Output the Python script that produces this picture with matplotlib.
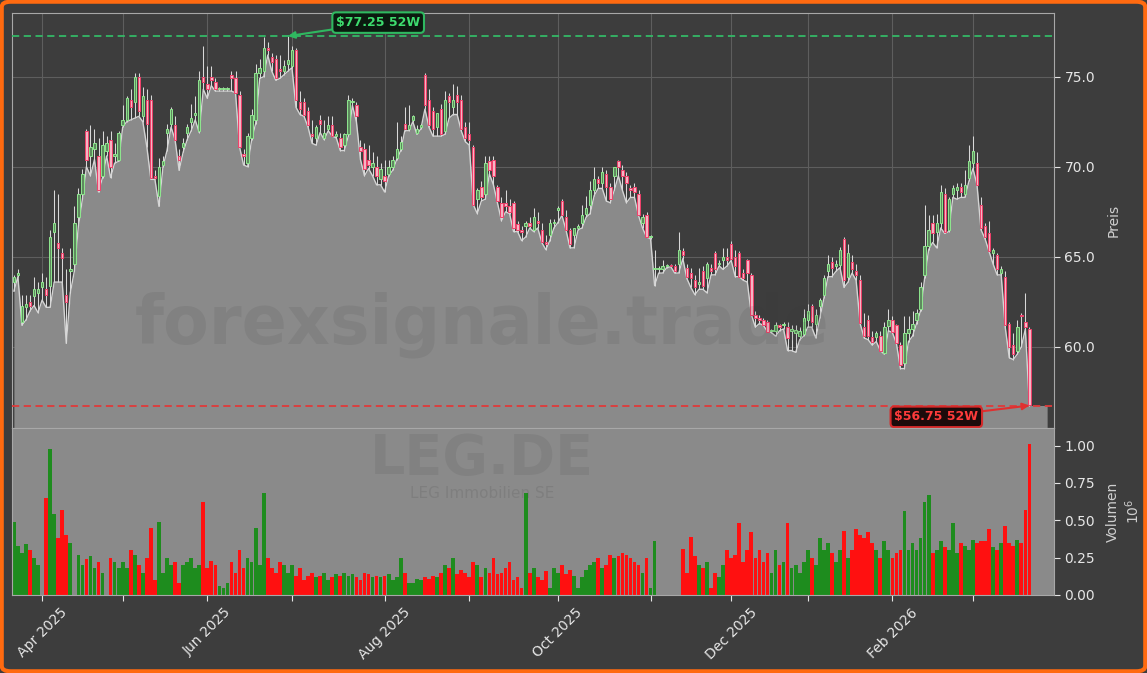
import numpy as np
import pandas as pd
import matplotlib
matplotlib.use("Agg")
import matplotlib.pyplot as plt
from matplotlib.patches import Rectangle, FancyBboxPatch

# ---------------- data ----------------
holidays = ["2025-04-18", "2025-04-21", "2025-05-01", "2025-12-24",
            "2025-12-25", "2025-12-26", "2025-12-31", "2026-01-01"]
dates = pd.bdate_range("2025-03-21", "2026-03-20")
dates = dates[~dates.isin(pd.to_datetime(holidays))]

opens = [63.6, 64.0, 61.4, 62.2, 62.5, 62.8, 63.0, 63.35, 63.2, 63.4,
         66.4, 65.75, 65.2, 62.9, 64.2, 64.6, 67.2, 68.5, 72.0, 70.6,
         71.0, 70.6, 69.5, 70.9, 71.5, 70.6, 70.4, 72.3, 72.6, 73.7,
         73.6, 75.0, 72.8, 73.7, 73.7, 69.5, 68.4, 70.1, 71.9, 72.4,
         72.3, 70.6, 71.1, 71.9, 72.5, 72.9, 72.0, 75.0, 74.6, 75.0,
         74.7, 74.3, 74.3, 74.3, 75.1, 74.9, 74.0, 70.7, 70.2, 71.6,
         72.6, 75.2, 75.3, 76.6, 76.1, 76.0, 75.4, 75.3, 75.7, 75.6,
         76.5, 73.6, 73.6, 73.1, 71.8, 71.6, 72.6, 71.6, 72.1, 72.3,
         71.7, 71.6, 71.2, 71.8, 73.6, 73.4, 71.1, 71.0, 70.4, 70.0,
         70.0, 69.3, 69.5, 69.6, 70.0, 70.5, 71.0, 72.4, 72.1, 72.6,
         71.9, 72.2, 75.1, 73.7, 73.1, 72.2, 73.2, 72.0, 73.9, 73.3,
         74.0, 73.7, 72.2, 71.8, 71.1, 68.2, 68.9, 68.5, 70.3, 70.4,
         68.9, 68.0, 68.0, 67.8, 68.0, 66.8, 66.5, 66.7, 66.9, 66.5,
         67.0, 66.5, 65.8, 66.2, 66.9, 67.6, 68.1, 67.2, 66.5, 66.2,
         66.6, 66.9, 67.4, 67.9, 68.7, 69.3, 69.1, 69.6, 68.9, 69.5,
         70.3, 69.8, 69.5, 68.8, 68.9, 68.5, 66.9, 67.3, 66.1, 64.3,
         64.3, 64.3, 64.5, 64.55, 64.5, 64.6, 65.3, 64.4, 64.1, 63.7,
         63.5, 64.2, 63.8, 64.4, 65.2, 64.6, 64.8, 65.0, 65.7, 65.0,
         65.2, 64.1, 64.8, 64.0, 61.8, 61.6, 61.5, 61.4, 60.9, 60.9,
         61.2, 61.2, 61.1, 60.9, 60.8, 60.6, 60.7, 61.5, 62.25, 61.3,
         62.3, 62.9, 64.2, 64.7, 64.5, 64.55, 66.0, 63.9, 64.7, 64.2,
         63.7, 61.1, 61.5, 60.55, 60.55, 60.6, 59.65, 61.15, 61.5, 61.2,
         60.1, 59.1, 60.8, 61.0, 61.5, 62.1, 64.0, 65.6, 66.9, 66.4,
         66.9, 68.5, 66.5, 68.5, 68.7, 68.9, 68.5, 69.4, 70.2, 70.2,
         67.9, 66.7, 66.35, 65.2, 65.1, 64.1, 63.9, 61.3, 60.1, 59.8,
         61.8, 61.4, 61.0]
highs = [64.0, 64.3, 62.9, 62.9, 62.9, 63.9, 63.6, 64.1, 63.9, 66.5,
         68.7, 68.5, 65.5, 64.3, 65.5, 67.8, 68.8, 69.9, 72.1, 72.3,
         72.1, 71.6, 72.0, 71.7, 72.0, 71.3, 72.0, 73.4, 73.9, 74.3,
         75.2, 75.2, 74.4, 74.3, 74.0, 69.8, 70.5, 70.6, 72.4, 73.3,
         72.8, 71.0, 71.6, 72.4, 73.5, 73.9, 75.3, 76.7, 75.6, 75.6,
         74.9, 74.4, 74.4, 74.4, 75.3, 75.3, 74.2, 71.0, 71.9, 73.2,
         75.7, 76.0, 77.2, 76.9, 76.3, 76.2, 76.2, 75.9, 77.25, 76.7,
         76.6, 74.2, 73.8, 73.3, 72.6, 72.3, 72.9, 72.6, 72.8, 72.8,
         72.0, 71.9, 71.9, 74.0, 73.8, 73.6, 71.5, 71.3, 71.2, 70.8,
         70.6, 70.2, 70.4, 70.4, 70.6, 72.5, 71.7, 73.3, 73.4, 72.9,
         72.3, 72.4, 75.2, 74.3, 73.3, 73.0, 73.5, 74.2, 74.1, 74.6,
         74.5, 74.0, 72.5, 72.5, 71.2, 68.8, 69.2, 70.6, 70.6, 70.6,
         69.0, 68.3, 68.7, 68.2, 68.1, 67.0, 66.7, 67.0, 67.2, 67.7,
         67.5, 66.9, 66.2, 67.1, 67.1, 67.8, 68.2, 67.6, 66.6, 66.6,
         66.8, 67.9, 68.4, 69.2, 70.0, 69.5, 70.0, 69.8, 69.1, 70.0,
         70.4, 70.1, 69.7, 69.0, 69.1, 68.7, 67.4, 67.5, 66.2, 65.4,
         64.5, 64.8, 64.6, 64.6, 64.6, 66.4, 65.5, 64.6, 64.4, 64.0,
         64.4, 64.5, 64.7, 64.6, 65.3, 64.8, 65.5, 65.5, 65.9, 65.4,
         65.3, 64.3, 64.9, 64.1, 62.0, 61.8, 61.6, 61.5, 61.0, 61.4,
         61.3, 61.4, 61.4, 61.2, 61.2, 61.1, 62.1, 62.4, 62.4, 62.1,
         62.7, 64.0, 65.1, 65.0, 64.8, 65.57, 66.1, 65.7, 65.1, 64.6,
         64.0, 61.9, 61.8, 60.9, 60.9, 60.9, 61.4, 62.1, 61.7, 61.3,
         60.3, 61.7, 61.7, 62.0, 62.1, 63.6, 67.9, 67.3, 67.3, 67.4,
         69.0, 68.8, 68.3, 69.0, 69.1, 69.1, 69.8, 71.2, 71.7, 70.8,
         68.3, 66.9, 67.0, 65.5, 65.2, 64.5, 64.2, 61.4, 60.8, 61.5,
         61.9, 63.0, 61.1]
lows = [63.1, 63.9, 61.2, 61.5, 62.0, 62.3, 61.9, 62.6, 62.2, 62.2,
        63.6, 63.6, 63.6, 60.2, 63.0, 64.2, 66.7, 68.2, 70.0, 69.5,
        70.4, 68.6, 69.4, 70.6, 69.4, 70.2, 70.3, 72.2, 72.5, 72.6,
        72.7, 72.8, 72.5, 71.1, 69.3, 69.3, 67.8, 70.0, 70.9, 72.2,
        71.5, 69.8, 70.8, 71.5, 72.0, 72.6, 71.9, 74.3, 73.8, 74.5,
        74.2, 74.2, 74.2, 74.2, 74.2, 74.1, 71.1, 70.1, 70.0, 71.5,
        72.4, 74.9, 75.0, 76.2, 75.3, 74.8, 74.9, 75.1, 75.3, 75.5,
        73.3, 72.9, 72.8, 72.2, 71.3, 71.2, 71.9, 71.5, 72.0, 71.7,
        71.6, 70.9, 70.9, 71.7, 73.4, 72.5, 70.4, 69.5, 69.9, 69.5,
        69.0, 69.0, 68.6, 69.5, 69.8, 70.4, 70.9, 72.0, 72.0, 72.5,
        71.8, 72.1, 73.2, 72.2, 71.7, 71.7, 71.7, 71.8, 72.7, 72.9,
        72.9, 72.0, 71.4, 71.2, 67.9, 67.4, 68.1, 68.2, 69.6, 69.0,
        68.0, 67.0, 67.5, 67.4, 66.4, 66.4, 65.9, 66.1, 66.6, 66.4,
        66.6, 65.8, 65.4, 65.9, 66.6, 66.9, 67.3, 66.5, 65.5, 65.5,
        66.5, 66.6, 67.2, 67.4, 68.4, 68.8, 68.8, 68.1, 68.0, 68.7,
        69.5, 68.7, 68.0, 68.3, 68.3, 67.3, 66.6, 66.1, 66.0, 63.4,
        64.1, 64.1, 64.4, 64.45, 64.1, 64.1, 64.9, 63.8, 63.3, 62.9,
        63.2, 63.2, 63.0, 64.0, 64.0, 64.5, 64.3, 64.5, 64.8, 63.9,
        63.9, 63.7, 63.6, 61.8, 61.1, 61.3, 61.2, 60.85, 60.8, 60.6,
        60.9, 61.0, 59.8, 59.8, 59.7, 60.4, 60.6, 61.1, 61.1, 60.5,
        61.6, 62.7, 63.9, 63.9, 64.2, 64.4, 63.3, 63.6, 64.1, 63.7,
        61.3, 60.5, 60.4, 60.1, 60.3, 59.8, 59.6, 60.9, 60.8, 60.2,
        58.8, 58.8, 60.3, 60.6, 61.3, 62.0, 63.8, 65.4, 65.8, 65.5,
        66.6, 66.3, 66.4, 68.3, 68.2, 68.3, 68.3, 69.2, 69.9, 69.0,
        66.5, 66.0, 65.3, 64.6, 64.0, 64.0, 61.1, 59.4, 59.3, 59.6,
        60.0, 61.0, 56.75]
closes = [63.9, 64.1, 62.3, 62.4, 62.3, 63.2, 63.2, 63.6, 62.9, 66.1,
          66.9, 65.5, 64.95, 62.5, 64.3, 66.9, 68.5, 69.6, 70.4, 71.1,
          71.3, 68.7, 71.2, 71.3, 70.0, 70.7, 71.9, 72.6, 73.8, 73.3,
          75.0, 73.1, 73.9, 72.4, 69.4, 69.4, 70.0, 70.3, 72.1, 73.2,
          71.5, 70.4, 71.3, 72.2, 72.7, 73.0, 74.8, 74.7, 74.3, 74.8,
          74.3, 74.3, 74.3, 74.3, 74.9, 74.1, 71.1, 70.6, 71.7, 72.9,
          75.2, 75.5, 76.6, 76.5, 75.8, 74.9, 75.3, 75.6, 75.9, 76.5,
          73.7, 73.2, 72.9, 72.3, 71.7, 72.2, 72.4, 71.9, 72.3, 71.7,
          71.8, 71.1, 71.8, 73.7, 73.6, 72.8, 70.9, 69.9, 70.1, 70.2,
          69.5, 69.9, 69.2, 70.0, 70.4, 71.0, 71.4, 72.1, 72.3, 72.8,
          72.1, 72.3, 73.4, 72.3, 72.1, 73.0, 71.8, 73.7, 73.6, 73.7,
          73.6, 72.1, 71.6, 71.5, 67.9, 68.7, 68.3, 70.2, 69.8, 69.5,
          68.1, 67.2, 67.8, 67.5, 66.6, 66.5, 66.4, 66.9, 66.7, 67.2,
          66.9, 65.8, 65.7, 66.9, 66.9, 67.7, 67.3, 66.5, 65.7, 66.6,
          66.7, 67.3, 67.7, 68.7, 69.3, 69.1, 69.7, 68.9, 68.2, 70.0,
          70.0, 69.5, 69.1, 68.7, 68.6, 67.3, 67.2, 66.1, 66.1, 64.4,
          64.3, 64.5, 64.55, 64.5, 64.2, 65.4, 65.1, 63.9, 63.8, 63.3,
          63.6, 63.4, 64.6, 64.2, 64.3, 64.6, 65.0, 64.8, 64.9, 64.5,
          63.9, 63.8, 64.1, 61.8, 61.6, 61.5, 61.2, 60.85, 60.9, 61.2,
          61.1, 61.3, 60.5, 61.0, 60.95, 60.9, 61.6, 62.0, 61.4, 61.8,
          62.6, 63.8, 64.6, 64.4, 64.6, 65.4, 63.7, 65.2, 64.3, 64.0,
          61.35, 60.6, 60.6, 60.3, 60.75, 59.8, 61.1, 61.5, 60.85, 60.2,
          59.0, 60.8, 61.0, 61.3, 61.9, 63.3, 65.6, 66.5, 66.3, 66.9,
          68.6, 66.4, 68.2, 68.8, 68.9, 68.6, 69.0, 70.3, 70.85, 69.0,
          66.6, 66.1, 65.3, 65.4, 64.3, 64.3, 61.2, 60.0, 59.6, 61.1,
          61.7, 61.1, 56.8]
# volume in millions of shares
volumes_mio = [0.49, 0.33, 0.28, 0.34, 0.30, 0.25, 0.20, 0.00, 0.65, 0.98,
               0.54, 0.38, 0.57, 0.40, 0.35, 0.00, 0.27, 0.20, 0.24, 0.26,
               0.18, 0.22, 0.15, 0.00, 0.25,
               0.22, 0.18, 0.22, 0.18, 0.30, 0.27, 0.20, 0.15, 0.25, 0.45,
               0.10, 0.49, 0.15, 0.25, 0.20, 0.22, 0.08, 0.20, 0.22, 0.25,
               0.18, 0.20, 0.62, 0.18, 0.23,
               0.20, 0.06, 0.05, 0.08, 0.22, 0.15, 0.30, 0.18, 0.25, 0.22,
               0.45, 0.20, 0.68, 0.25, 0.18, 0.15, 0.22, 0.20, 0.15, 0.20,
               0.13, 0.18, 0.10, 0.13, 0.15,
               0.12, 0.13, 0.15, 0.10, 0.12, 0.14, 0.13, 0.15, 0.13, 0.14,
               0.12, 0.10, 0.15, 0.14, 0.12, 0.13, 0.12, 0.13, 0.14, 0.10,
               0.12, 0.25, 0.15, 0.08, 0.08,
               0.11, 0.10, 0.12, 0.11, 0.13, 0.12, 0.15, 0.20, 0.18, 0.25,
               0.14, 0.17, 0.15, 0.12, 0.22, 0.20, 0.12, 0.18, 0.15, 0.25,
               0.14, 0.15, 0.18, 0.22, 0.10,
               0.12, 0.05, 0.68, 0.15, 0.18, 0.12, 0.10, 0.16, 0.05, 0.18,
               0.15, 0.20, 0.14, 0.17, 0.13, 0.05, 0.12, 0.17, 0.20, 0.22,
               0.25, 0.18, 0.20, 0.27, 0.25,
               0.26, 0.28, 0.27, 0.25, 0.22, 0.20, 0.15, 0.25, 0.05, 0.36,
               0.00, 0.00, 0.00, 0.00, 0.00, 0.00, 0.31, 0.15, 0.39, 0.26,
               0.20, 0.18, 0.22, 0.05, 0.15,
               0.12, 0.20, 0.30, 0.25, 0.27, 0.48, 0.22, 0.30, 0.42, 0.25,
               0.30, 0.22, 0.28, 0.15, 0.30, 0.20, 0.22, 0.48, 0.18, 0.20,
               0.15, 0.22, 0.30, 0.25, 0.20,
               0.38, 0.30, 0.35, 0.28, 0.22, 0.30, 0.43, 0.25, 0.30, 0.44,
               0.40, 0.38, 0.42, 0.35, 0.30, 0.25, 0.36, 0.30, 0.25, 0.28,
               0.30, 0.56, 0.30, 0.35, 0.30,
               0.38, 0.62, 0.67, 0.28, 0.30, 0.36, 0.32, 0.30, 0.48, 0.28,
               0.35, 0.33, 0.30, 0.37, 0.35, 0.36, 0.36, 0.44, 0.32, 0.30,
               0.35, 0.46, 0.35, 0.33, 0.37, 0.35, 0.57, 1.01]

high_52w = 77.25
low_52w = 56.75

# ---------------- style ----------------
BG = "#3d3d3d"
FILL = "#8a8a8a"
TXT = "#e6e6e6"
n = len(dates)
assert len(opens) == n and len(highs) == n and len(lows) == n
assert len(closes) == n and len(volumes_mio) == n
x = np.arange(n)
o = np.array(opens); h = np.array(highs); l = np.array(lows); c = np.array(closes)
up = c >= o

fig = plt.figure(figsize=(11.47, 6.73), dpi=100, facecolor=BG)
ax_p = fig.add_axes([0.0107, 0.364, 0.9082, 0.6174], facecolor=BG)
ax_v = fig.add_axes([0.0107, 0.1159, 0.9082, 0.2481], facecolor=FILL, sharex=ax_p)

YMIN, YMAX = 55.5, 78.56
XMIN, XMAX = -0.4, 258.1

# price area (under the lows)
pad = 4.4
xf = np.append(x, x[-1] + pad)
lf = np.append(l, l[-1])
ax_p.fill_between(xf, lf, YMIN, color=FILL, zorder=1, lw=0)
ax_p.plot(x, l, color="#d4d4d4", lw=1.0, zorder=2)

# candles
for i in range(n):
    lo = min(l[i], o[i], c[i]); hi = max(h[i], o[i], c[i])
    ax_p.plot([x[i], x[i]], [lo, hi], color="#d8d8d8", lw=0.75, zorder=3,
              solid_capstyle="butt")
    bottom = min(o[i], c[i]); height = max(abs(c[i] - o[i]), 0.06)
    if up[i]:
        fc, ec = "#5f8a5f", "#8fe88f"
    else:
        fc, ec = "#f5b5c4", "#f0406a"
    ax_p.add_patch(Rectangle((x[i] - 0.3, bottom), 0.6, height, facecolor=fc,
                             edgecolor=ec, lw=0.7, zorder=4))

# 52 week lines and labels
ax_p.axhline(high_52w, color="#34b866", ls=(0, (4, 2.5)), lw=1.3, zorder=5)
ax_p.axhline(low_52w, color="#e03a3a", ls=(0, (4, 2.5)), lw=1.3, zorder=5)
i_hi = int(np.argmax(h)); i_lo = int(np.argmin(l))
ax_p.annotate(r"\$%.2f 52W" % high_52w, xy=(i_hi, high_52w), xytext=(90.4, 78.0),
              fontsize=9, fontweight="bold", color="#3ddc6e", ha="center", va="center",
              bbox=dict(boxstyle="round,pad=0.3", fc="#0b1a0f", ec="#2fb860", lw=1.5),
              arrowprops=dict(arrowstyle="-|>", color="#2fb860", lw=1.5,
                              mutation_scale=10, shrinkA=0, shrinkB=0),
              annotation_clip=False, zorder=10)
ax_p.annotate(r"\$%.2f 52W" % low_52w, xy=(i_lo, low_52w), xytext=(228.9, 56.12),
              fontsize=9, fontweight="bold", color="#ff3b3b", ha="center", va="center",
              bbox=dict(boxstyle="round,pad=0.3", fc="#1c0b0b", ec="#d42a2a", lw=1.5),
              arrowprops=dict(arrowstyle="-|>", color="#e03030", lw=1.5,
                              mutation_scale=10, shrinkA=0, shrinkB=0),
              annotation_clip=False, zorder=10)

ax_p.set_ylim(YMIN, YMAX)
ax_p.set_xlim(XMIN, XMAX)
ax_p.set_yticks([60, 65, 70, 75])
ax_p.yaxis.set_major_formatter(matplotlib.ticker.FormatStrFormatter("%.1f"))
ax_p.yaxis.tick_right()
ax_p.yaxis.set_label_position("right")
ax_p.set_ylabel("Preis", color="#cfcfcf", fontsize=10, labelpad=8)
ax_p.set_axisbelow(True)
ax_p.grid(True, color="#5e5e5e", lw=0.8, zorder=0)

# volume
vcol = np.where(up, "#1e8c1e", "#ff1010")
ax_v.bar(x, volumes_mio, width=0.92, color=vcol, lw=0, zorder=2)
ax_v.set_ylim(0, 1.118)
ax_v.set_yticks([0, 0.25, 0.5, 0.75, 1.0])
ax_v.yaxis.set_major_formatter(matplotlib.ticker.FormatStrFormatter("%.2f"))
ax_v.yaxis.tick_right()
ax_v.yaxis.set_label_position("right")
ax_v.set_ylabel("Volumen\n$10^6$", color="#cfcfcf", fontsize=10, labelpad=8)

# month ticks at first trading day of each month
month_first = pd.Series(np.arange(n), index=dates).groupby(dates.to_period("M")).first()
tick_pos, tick_lab = [], []
for per, pos in month_first.items():
    if dates[pos].day > 7:
        continue
    tick_pos.append(pos)
    tick_lab.append(per.strftime("%b %Y") if per.month % 2 == 0 else "")
ax_v.set_xticks(tick_pos)
ax_v.set_xticklabels(tick_lab, rotation=45, ha="center")
ax_p.tick_params(axis="x", labelbottom=False, length=0)

for ax in (ax_p, ax_v):
    ax.tick_params(colors=TXT, labelsize=10, length=4, width=0.8)
    for sp in ax.spines.values():
        sp.set_color("#a8a8a8")
        sp.set_linewidth(0.8)
ax_v.tick_params(axis="x", colors=TXT, labelsize=10)

# watermarks
fig.text(0.42, 0.517, "forexsignale.trade", fontsize=48, fontweight="bold",
         color="#3a3a3a", alpha=0.11, ha="center", va="center", zorder=20)
fig.text(0.42, 0.318, "LEG.DE", fontsize=40, fontweight="bold",
         color="#3a3a3a", alpha=0.11, ha="center", va="center", zorder=20)
fig.text(0.42, 0.266, "LEG Immobilien SE", fontsize=11,
         color="#3a3a3a", alpha=0.14, ha="center", va="center", zorder=20)

# orange frame
fig.patches.append(FancyBboxPatch((0.0015, 0.0025), 0.997, 0.995,
                                  boxstyle="round,pad=0,rounding_size=0.008",
                                  transform=fig.transFigure, fill=False,
                                  ec="#ff6a10", lw=3, zorder=30))

fig.savefig("out.png", dpi=100, facecolor=BG)
